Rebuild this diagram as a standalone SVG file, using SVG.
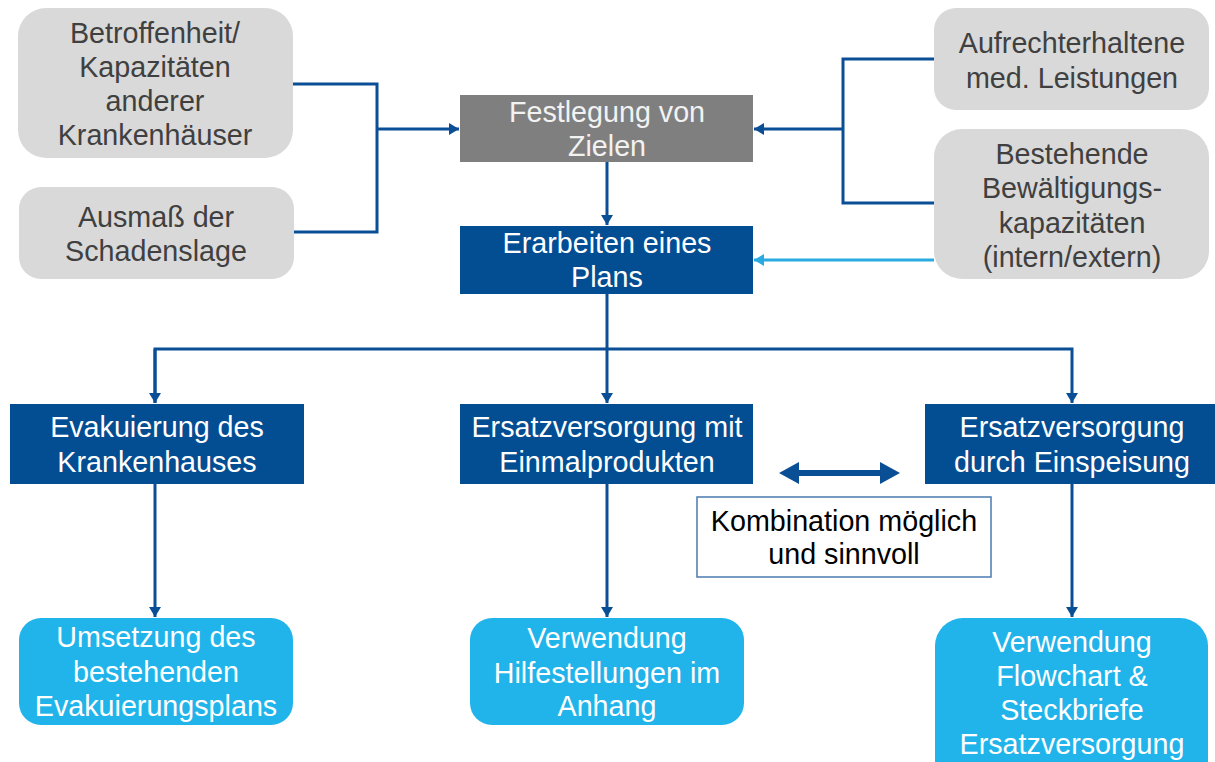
<svg xmlns="http://www.w3.org/2000/svg" width="1215" height="762" viewBox="0 0 1215 762">
<defs>
<style>
text{font-family:"Liberation Sans",Arial,sans-serif;font-size:28.7px;text-anchor:middle}
.gray{fill:#d9d9d9}
.gt{fill:#404040}
.dark{fill:#034d93}
.light{fill:#21b4ea}
.wt{fill:#ffffff}
.con{fill:none;stroke:#0a4f96;stroke-width:3}
.conl{fill:none;stroke:#29abe2;stroke-width:3}
</style>
<marker id="ah" markerUnits="userSpaceOnUse" markerWidth="12" markerHeight="12" refX="10" refY="6" orient="auto"><path d="M0,0 L10,6 L0,12 z" fill="#0a4f96"/></marker>
<marker id="ahl" markerUnits="userSpaceOnUse" markerWidth="12" markerHeight="12" refX="10" refY="6" orient="auto"><path d="M0,0 L10,6 L0,12 z" fill="#29abe2"/></marker>
</defs>
<g id="connectors">
<path class="con" d="M293,84 H377 V232 H294"/>
<path class="con" d="M377,129 H459" marker-end="url(#ah)"/>
<path class="con" d="M934,59 H843 V203 H934"/>
<path class="con" d="M843,129 H754" marker-end="url(#ah)"/>
<path class="conl" d="M934,260 H754" marker-end="url(#ahl)"/>
<path class="con" d="M607,162 V225" marker-end="url(#ah)"/>
<path class="con" d="M607,294 V403" marker-end="url(#ah)"/>
<path class="con" d="M155,403 V349 H1072 V403" marker-end="url(#ah)"/>
<path class="con" d="M155,349 V403" marker-end="url(#ah)"/>
<path class="con" d="M155,484 V617" marker-end="url(#ah)"/>
<path class="con" d="M607,484 V617" marker-end="url(#ah)"/>
<path class="con" d="M1072,484 V617" marker-end="url(#ah)"/>
<polygon points="779,473 799,462 799,470 880,470 880,462 900,473 880,484 880,476 799,476 799,484" fill="#0a4f96"/>
</g>
<g id="n-betroffenheit">
<rect class="gray" x="18" y="8" width="275" height="150" rx="28"/>
<text class="gt" x="155" y="43">Betroffenheit/</text>
<text class="gt" x="155" y="77">Kapazitäten</text>
<text class="gt" x="155" y="111">anderer</text>
<text class="gt" x="155" y="145">Krankenhäuser</text>
</g>
<g id="n-ausmass">
<rect class="gray" x="19" y="187" width="275" height="92" rx="22"/>
<text class="gt" x="156" y="227">Ausmaß der</text>
<text class="gt" x="156" y="261">Schadenslage</text>
</g>
<g id="n-festlegung">
<rect x="460" y="95" width="293" height="67" fill="#7f7f7f"/>
<text x="607" y="122" fill="#f2f2f2">Festlegung von</text>
<text x="607" y="156" fill="#f2f2f2">Zielen</text>
</g>
<g id="n-erarbeiten">
<rect class="dark" x="460" y="226" width="293" height="68"/>
<text class="wt" x="607" y="253">Erarbeiten eines</text>
<text class="wt" x="607" y="287">Plans</text>
</g>
<g id="n-aufrecht">
<rect class="gray" x="934" y="8" width="275" height="102" rx="22"/>
<text class="gt" x="1072" y="53">Aufrechterhaltene</text>
<text class="gt" x="1072" y="88">med. Leistungen</text>
</g>
<g id="n-bestehende">
<rect class="gray" x="934" y="129" width="275" height="150" rx="28"/>
<text class="gt" x="1072" y="164">Bestehende</text>
<text class="gt" x="1072" y="198">Bewältigungs-</text>
<text class="gt" x="1072" y="233">kapazitäten</text>
<text class="gt" x="1072" y="267">(intern/extern)</text>
</g>
<g id="n-evakuierung">
<rect class="dark" x="10" y="404" width="294" height="80"/>
<text class="wt" x="157" y="437">Evakuierung des</text>
<text class="wt" x="157" y="472">Krankenhauses</text>
</g>
<g id="n-einmal">
<rect class="dark" x="460" y="404" width="293" height="80"/>
<text class="wt" x="607" y="437">Ersatzversorgung mit</text>
<text class="wt" x="607" y="472">Einmalprodukten</text>
</g>
<g id="n-einspeisung">
<rect class="dark" x="925" y="404" width="290" height="80"/>
<text class="wt" x="1072" y="437">Ersatzversorgung</text>
<text class="wt" x="1072" y="472">durch Einspeisung</text>
</g>
<g id="n-kombination">
<rect x="697" y="497" width="294" height="80" fill="#ffffff" stroke="#4a7bb0" stroke-width="1.5"/>
<text x="844" y="531" fill="#000000">Kombination möglich</text>
<text x="844" y="564" fill="#000000">und sinnvoll</text>
</g>
<g id="n-umsetzung">
<rect class="light" x="19" y="618" width="274" height="107" rx="22"/>
<text class="wt" x="156" y="647">Umsetzung des</text>
<text class="wt" x="156" y="682">bestehenden</text>
<text class="wt" x="156" y="716">Evakuierungsplans</text>
</g>
<g id="n-hilfe">
<rect class="light" x="470" y="618" width="274" height="107" rx="22"/>
<text class="wt" x="607" y="648">Verwendung</text>
<text class="wt" x="607" y="683">Hilfestellungen im</text>
<text class="wt" x="607" y="716">Anhang</text>
</g>
<g id="n-flowchart">
<rect class="light" x="935" y="618" width="273" height="170" rx="28"/>
<text class="wt" x="1072" y="652">Verwendung</text>
<text class="wt" x="1072" y="686">Flowchart &amp;</text>
<text class="wt" x="1072" y="720">Steckbriefe</text>
<text class="wt" x="1072" y="754">Ersatzversorgung</text>
</g>
</svg>
